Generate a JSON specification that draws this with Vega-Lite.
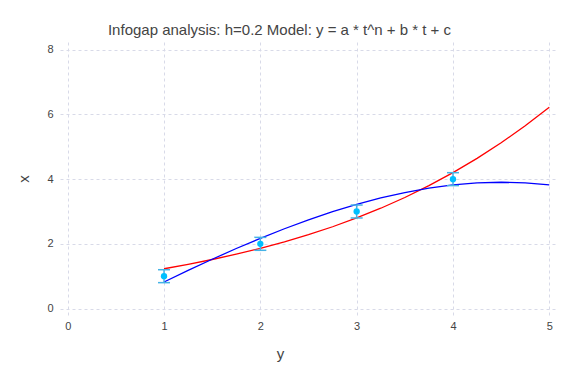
{
  "$schema": "https://vega.github.io/schema/vega-lite/v6.json",
  "width": 497,
  "height": 273,
  "autosize": "none",
  "padding": {"left": 60, "top": 42, "right": 19, "bottom": 69},
  "background": "white",
  "title": {
    "text": "Infogap analysis: h=0.2 Model: y = a * t^n + b * t + c",
    "font": "Liberation Sans",
    "fontSize": 15,
    "fontWeight": "normal",
    "color": "#444444",
    "anchor": "middle",
    "dx": -29,
    "offset": 4
  },
  "config": {
    "view": {"stroke": null},
    "axis": {
      "labelFont": "Liberation Sans",
      "labelFontSize": 11,
      "labelColor": "#444444",
      "titleFont": "Liberation Sans",
      "titleFontSize": 15,
      "titleFontWeight": "normal",
      "titleColor": "#444444",
      "domain": false,
      "ticks": false,
      "tickSize": 0,
      "grid": true,
      "gridColor": "#d8dae8",
      "gridDash": [3, 3],
      "gridWidth": 1
    }
  },
  "datasets": {
    "curves": [
      {"t": 1.00, "value": 1.230, "model": "red"},
      {"t": 1.25, "value": 1.367, "model": "red"},
      {"t": 1.50, "value": 1.516, "model": "red"},
      {"t": 1.75, "value": 1.680, "model": "red"},
      {"t": 2.00, "value": 1.861, "model": "red"},
      {"t": 2.25, "value": 2.061, "model": "red"},
      {"t": 2.50, "value": 2.282, "model": "red"},
      {"t": 2.75, "value": 2.528, "model": "red"},
      {"t": 3.00, "value": 2.800, "model": "red"},
      {"t": 3.25, "value": 3.101, "model": "red"},
      {"t": 3.50, "value": 3.433, "model": "red"},
      {"t": 3.75, "value": 3.800, "model": "red"},
      {"t": 4.00, "value": 4.202, "model": "red"},
      {"t": 4.25, "value": 4.643, "model": "red"},
      {"t": 4.50, "value": 5.124, "model": "red"},
      {"t": 4.75, "value": 5.650, "model": "red"},
      {"t": 5.00, "value": 6.221, "model": "red"},
      {"t": 1.00, "value": 0.820, "model": "blue"},
      {"t": 1.25, "value": 1.178, "model": "blue"},
      {"t": 1.50, "value": 1.523, "model": "blue"},
      {"t": 1.75, "value": 1.855, "model": "blue"},
      {"t": 2.00, "value": 2.170, "model": "blue"},
      {"t": 2.25, "value": 2.467, "model": "blue"},
      {"t": 2.50, "value": 2.742, "model": "blue"},
      {"t": 2.75, "value": 2.994, "model": "blue"},
      {"t": 3.00, "value": 3.220, "model": "blue"},
      {"t": 3.25, "value": 3.418, "model": "blue"},
      {"t": 3.50, "value": 3.586, "model": "blue"},
      {"t": 3.75, "value": 3.720, "model": "blue"},
      {"t": 4.00, "value": 3.820, "model": "blue"},
      {"t": 4.25, "value": 3.882, "model": "blue"},
      {"t": 4.50, "value": 3.904, "model": "blue"},
      {"t": 4.75, "value": 3.884, "model": "blue"},
      {"t": 5.00, "value": 3.820, "model": "blue"}
    ],
    "points": [
      {"t": 1, "value": 1, "lo": 0.8, "hi": 1.2},
      {"t": 2, "value": 2, "lo": 1.8, "hi": 2.2},
      {"t": 3, "value": 3, "lo": 2.8, "hi": 3.2},
      {"t": 4, "value": 4, "lo": 3.8, "hi": 4.2}
    ]
  },
  "encoding": {
    "x": {
      "field": "t",
      "type": "quantitative",
      "title": "y",
      "scale": {"domain": [-0.08, 5.08], "nice": false, "zero": false},
      "axis": {"values": [0, 1, 2, 3, 4, 5], "labelPadding": 5, "titlePadding": 15, "titleX": 220}
    },
    "y": {
      "field": "value",
      "type": "quantitative",
      "title": "x",
      "scale": {"domain": [-0.2, 8.24], "nice": false, "zero": false},
      "axis": {"values": [0, 2, 4, 6, 8], "labelPadding": 7, "titlePadding": 15}
    }
  },
  "layer": [
    {
      "data": {"name": "curves"},
      "mark": {"type": "line", "strokeWidth": 1.3, "clip": true},
      "encoding": {
        "detail": {"field": "model"},
        "color": {"field": "model", "type": "nominal", "scale": {"domain": ["red", "blue"], "range": ["#ff0000", "#0000ff"]}, "legend": null}
      }
    },
    {
      "data": {"name": "points"},
      "mark": {"type": "rule", "color": "#45b3e6", "strokeWidth": 1.5},
      "encoding": {
        "y": {"field": "lo", "type": "quantitative"},
        "y2": {"field": "hi"}
      }
    },
    {
      "data": {"name": "points"},
      "mark": {"type": "tick", "orient": "horizontal", "color": "#45b3e6", "size": 12, "thickness": 1.5, "opacity": 1},
      "encoding": {
        "y": {"field": "lo", "type": "quantitative"}
      }
    },
    {
      "data": {"name": "points"},
      "mark": {"type": "tick", "orient": "horizontal", "color": "#45b3e6", "size": 12, "thickness": 1.5, "opacity": 1},
      "encoding": {
        "y": {"field": "hi", "type": "quantitative"}
      }
    },
    {
      "data": {"name": "points"},
      "mark": {"type": "circle", "color": "#00bfff", "size": 40, "opacity": 1}
    }
  ]
}
